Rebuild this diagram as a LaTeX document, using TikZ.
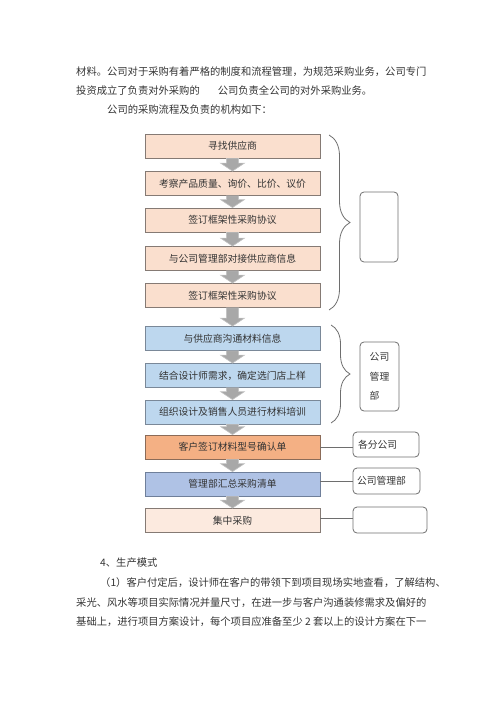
\documentclass[tikz,border=0pt]{standalone}
\usepackage{fontspec}
\setmainfont{Noto Sans CJK SC}
\usetikzlibrary{decorations.pathreplacing,calc}
\definecolor{peach}{HTML}{FADFCE}
\definecolor{peachlt}{HTML}{FCEADF}
\definecolor{peachbd}{HTML}{857A74}
\definecolor{bluef}{HTML}{BDD7EE}
\definecolor{bluebd}{HTML}{7A8898}
\definecolor{orangef}{HTML}{F4B084}
\definecolor{orangebd}{HTML}{8B6B58}
\definecolor{violetf}{HTML}{AFC2E5}
\definecolor{violetbd}{HTML}{6F7F9A}
\definecolor{sidegray}{HTML}{6E6E6E}
\definecolor{arrfill}{HTML}{A8A8A8}
\definecolor{arrbd}{HTML}{C4C4C4}
\definecolor{bodytext}{HTML}{333333}
\newcommand\blockarr[2]{%
  \filldraw[fill=arrfill,draw=arrbd,line width=0.6pt]
    let \p1=(#1.south), \p2=(#2.north) in
    (\x1-6pt,\y1) -- (\x1-6pt,\y2+8pt) -- (\x1-12pt,\y2+8pt) -- (\x1,\y2)
    -- (\x1+12pt,\y2+8pt) -- (\x1+6pt,\y2+8pt) -- (\x1+6pt,\y1) -- cycle;}
\begin{document}
\begin{tikzpicture}[x=1pt,y=-1pt,
  stepbox/.style={draw, line width=0.8pt, minimum width=175pt, minimum height=24pt,
    inner sep=0pt, font=\fontsize{9.8}{12}\selectfont, text=bodytext},
  sidebox/.style={draw=sidegray, line width=0.8pt, rounded corners=4pt,
    font=\fontsize{9.8}{12}\selectfont, text=bodytext},
  bodyline/.style={anchor=west, inner sep=0pt, font=\fontsize{10.3}{12}\selectfont, text=bodytext},
  bracestyle/.style={draw=sidegray, line width=0.8pt, decorate},
  link/.style={draw=sidegray, line width=0.8pt}]
\useasboundingbox (0,0) rectangle (500,708);

% body text
\node[bodyline] (t1) at (76,72) {材料。公司对于采购有着严格的制度和流程管理，为规范采购业务，公司专门};
\node[bodyline] (t2) at (76,91) {投资成立了负责对外采购的\hspace{18pt}公司负责全公司的对外采购业务。};
\node[bodyline] (t3) at (107,110) {公司的采购流程及负责的机构如下：};

% flow boxes
\node[stepbox, fill=peach, draw=peachbd] (b1) at (232.5,146) {寻找供应商};
\node[stepbox, fill=peach, draw=peachbd] (b2) at (232.5,183.5) {考察产品质量、询价、比价、议价};
\node[stepbox, fill=peach, draw=peachbd] (b3) at (232.5,220) {签订框架性采购协议};
\node[stepbox, fill=peach, draw=peachbd] (b4) at (232.5,258.5) {与公司管理部对接供应商信息};
\node[stepbox, fill=peach, draw=peachbd] (b5) at (232.5,295.5) {签订框架性采购协议};
\node[stepbox, fill=bluef, draw=bluebd] (b6) at (232.5,338.5) {与供应商沟通材料信息};
\node[stepbox, fill=bluef, draw=bluebd] (b7) at (232.5,375.5) {结合设计师需求，确定选门店上样};
\node[stepbox, fill=bluef, draw=bluebd] (b8) at (232.5,412) {组织设计及销售人员进行材料培训};
\node[stepbox, fill=orangef, draw=orangebd] (b9) at (232.5,447) {客户签订材料型号确认单};
\node[stepbox, fill=violetf, draw=violetbd] (b10) at (232.5,484) {管理部汇总采购清单};
\node[stepbox, fill=peachlt, draw=peachbd] (b11) at (232.5,520.5) {集中采购};

% block arrows
\blockarr{b1}{b2}
\blockarr{b2}{b3}
\blockarr{b3}{b4}
\blockarr{b4}{b5}
\blockarr{b5}{b6}
\blockarr{b6}{b7}
\blockarr{b7}{b8}
\blockarr{b8}{b9}
\blockarr{b9}{b10}
\blockarr{b10}{b11}

% braces
\coordinate (br1a) at (329,135);
\coordinate (br1b) at (329,310);
\coordinate (br2a) at (331,325);
\coordinate (br2b) at (331,423);
\draw[bracestyle, decoration={brace, amplitude=21pt}] (br1a) -- (br1b);
\draw[bracestyle, decoration={brace, amplitude=19pt}] (br2a) -- (br2b);

% side boxes
\node[sidebox, minimum width=38pt, minimum height=70pt] (s1) at (379,227) {};
\node[sidebox, minimum width=39pt, minimum height=69pt, align=left,
  font=\fontsize{9.8}{19.5}\selectfont] (s2) at (379.5,376.5) {公司\\管理\\部};
\node[sidebox, minimum height=25pt, text width=56pt, inner xsep=5pt, align=left] (s3) at (386,444.5) {各分公司};
\node[sidebox, minimum height=26pt, text width=59pt, inner xsep=4pt, align=left] (s4) at (386.5,481) {公司管理部};
\node[sidebox, minimum width=74pt, minimum height=26pt] (s5) at (390,520) {};

% links
\draw[link] (b9.east) -- (b9.east -| s3.west);
\draw[link] (b10.east) ++(0,-3) coordinate (l10) (l10) -- (l10 -| s4.west);
\draw[link] (b11.east) ++(0,-2.5) coordinate (l11) (l11) -- (l11 -| s5.west);

% lower text
\node[bodyline] (t4) at (100,563) {4、生产模式};
\node[bodyline] (t5) at (100,583) {（1）客户付定后，设计师在客户的带领下到项目现场实地查看，了解结构、};
\node[bodyline] (t6) at (76,603) {采光、风水等项目实际情况并量尺寸，在进一步与客户沟通装修需求及偏好的};
\node[bodyline] (t7) at (76,622) {基础上，进行项目方案设计，每个项目应准备至少 2 套以上的设计方案在下一};
\end{tikzpicture}
\end{document}
